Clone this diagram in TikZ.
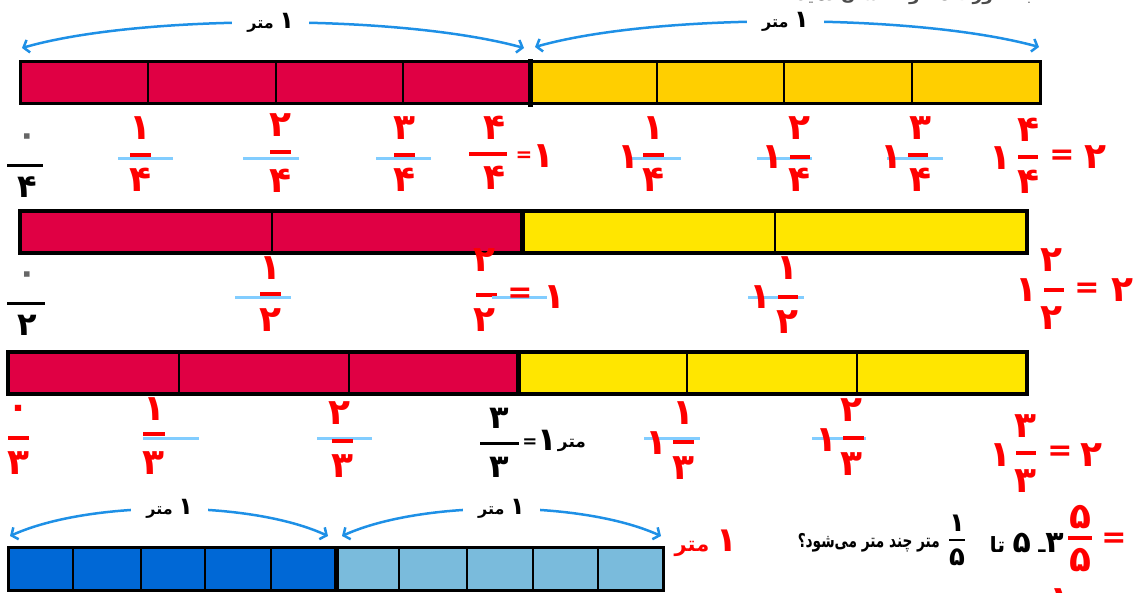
\documentclass[tikz,border=0pt]{standalone}
\usepackage{fontspec}
\usetikzlibrary{arrows.meta}
\newfontfamily\fa[Script=Arabic]{DejaVu Sans}
\TeXXeTstate=1
\newcommand\RL[1]{\beginR #1\endR}
\newcommand\bigd[2]{{\fontsize{#1}{#1}\selectfont #2}}
\definecolor{crim}{RGB}{224,0,68}
\definecolor{gold}{RGB}{255,207,0}
\definecolor{yel}{RGB}{255,230,0}
\definecolor{dblue}{RGB}{0,104,214}
\definecolor{lblue}{RGB}{122,187,220}
\definecolor{arrblue}{RGB}{30,144,230}
\definecolor{skyl}{RGB}{130,205,255}
\tikzset{
  rd/.style={font=\fa\bfseries\fontsize{36}{36}\selectfont, text=red, inner sep=0pt},
  rdeq/.style={font=\fa\bfseries\fontsize{30}{30}\selectfont, text=red, inner sep=0pt},
  rdeqs/.style={font=\fa\bfseries\fontsize{20}{20}\selectfont, text=red, inner sep=0pt},
  bk/.style={font=\fa\bfseries\fontsize{32}{32}\selectfont, text=black, inner sep=0pt},
  fbar/.style={draw=red, line width=3.5pt},
  kbar/.style={draw=black, line width=3.5pt},
  sbl/.style={draw=skyl, line width=3pt},
  arc/.style={draw=arrblue, line width=2.5pt, {Straight Barb[length=5pt,width=13pt]}-{Straight Barb[length=5pt,width=13pt]}},
  lab/.style={fill=white, font=\fa\bfseries\fontsize{16}{16}\selectfont, inner xsep=15pt, inner ysep=2pt},
  edge/.style={line width=3pt, draw=black},
  div/.style={line width=2.5pt, draw=black},
  mid/.style={line width=5pt, draw=black},
}
\begin{document}
\begin{tikzpicture}[x=1pt,y=-1pt]
\useasboundingbox (0,0) rectangle (1133,592);
% cut-off heading
\node[font=\fa\bfseries\fontsize{17}{17}\selectfont, text=black!70, inner sep=0pt] (head) at (915,-4) {\RL{به صورت مخلوط نشان دهید}};

% ---------- bar 1 ----------
\fill[crim] (20,61) rectangle (530,103);
\fill[gold] (530,61) rectangle (1040,103);
\foreach \x in {148,276,403,657,784,912} \draw[div] (\x,61) -- (\x,103);
\draw[edge] (20,61) rectangle (1040,103);
\draw[mid] (530,59) -- (530,107);
\coordinate (a1s) at (22,48); \coordinate (a1e) at (524,48);
\coordinate (a2s) at (535,47); \coordinate (a2e) at (1039,47);
\draw[arc] (a1s) .. controls (140,14) and (400,14) .. (a1e) node[lab, pos=0.5] (l1) {\RL{\bigd{24}{۱} متر}};
\draw[arc] (a2s) .. controls (655,13) and (915,13) .. (a2e) node[lab, pos=0.5] (l2) {\RL{\bigd{24}{۱} متر}};

% row 1 labels
\draw[kbar, line width=3pt] (7,165) -- (43,165);
\node[bk, text=black!60] (r1z) at (27,140) {۰};
\node[bk] (r1zd) at (27,187) {۴};
\draw[sbl] (118,158) -- (173,158); \draw[fbar] (130,155) -- (151,155);
\node[rd] (f1n) at (140,128) {۱}; \node[rd] (f1d) at (140,180) {۴};
\draw[sbl] (243,158) -- (299,158); \draw[fbar] (270,152) -- (291,152);
\node[rd] (f2n) at (280,125) {۲}; \node[rd] (f2d) at (280,181) {۴};
\draw[sbl] (376,158) -- (431,158); \draw[fbar] (394,155) -- (415,155);
\node[rd] (f3n) at (404,128) {۳}; \node[rd] (f3d) at (404,180) {۴};
\draw[fbar] (469,154) -- (507,154);
\node[rd] (f4n) at (494,128) {۴}; \node[rd] (f4d) at (494,178) {۴};
\node[rdeqs] (f4e) at (524,157) {=}; \node[rd] (f4w) at (543,156) {۱};

\draw[sbl] (629,158) -- (681,158); \draw[fbar] (643,155) -- (664,155);
\node[rd] (g1w) at (628,157) {۱}; \node[rd] (g1n) at (653,128) {۱}; \node[rd] (g1d) at (653,180) {۴};
\draw[sbl] (757,158) -- (812,158); \draw[fbar] (790,157) -- (810,157);
\node[rd] (g2w) at (772,157) {۱}; \node[rd] (g2n) at (799,128) {۲}; \node[rd] (g2d) at (799,180) {۴};
\draw[sbl] (887,158) -- (943,158); \draw[fbar] (908,155) -- (928,155);
\node[rd] (g3w) at (891,157) {۱}; \node[rd] (g3n) at (920,128) {۳}; \node[rd] (g3d) at (920,180) {۴};
\draw[fbar] (1018,157) -- (1038,157);
\node[rd] (g4w) at (1000,158) {۱}; \node[rd] (g4n) at (1028,130) {۴}; \node[rd] (g4d) at (1028,182) {۴};
\node[rdeq] (g4e) at (1062,157) {=}; \node[rd] (g4r) at (1095,157) {۲};

% ---------- bar 2 ----------
\fill[crim] (20,211) rectangle (522,253);
\fill[yel] (522,211) rectangle (1027,253);
\foreach \x in {272,775} \draw[div] (\x,211) -- (\x,253);
\draw[edge, line width=3.5pt] (20,211) rectangle (1027,253);
\draw[mid] (522,211) -- (522,253);

% row 2 labels
\draw[kbar, line width=3pt] (7,303) -- (45,303);
\node[bk, text=black!60] (r2z) at (27,278) {۰};
\node[bk] (r2zd) at (27,325) {۲};
\draw[sbl] (235,297) -- (291,297); \draw[fbar] (260,294) -- (281,294);
\node[rd] (h1n) at (270,268) {۱}; \node[rd] (h1d) at (270,320) {۲};
\draw[fbar] (476,295) -- (497,295); \draw[sbl] (492,297) -- (547,297);
\node[rdeq] (h2e) at (520,295) {=}; \node[rd] (h2w) at (554,297) {۱};
\node[rd] (h2n) at (484,260) {۲}; \node[rd] (h2d) at (484,320) {۲};
\draw[sbl] (748,297) -- (804,297); \draw[fbar] (778,297) -- (798,297);
\node[rd] (h3w) at (760,297) {۱}; \node[rd] (h3n) at (787,268) {۱}; \node[rd] (h3d) at (787,322) {۲};
\draw[fbar] (1044,290) -- (1064,290);
\node[rd] (h4w) at (1026,290) {۱}; \node[rd] (h4n) at (1051,260) {۲}; \node[rd] (h4d) at (1051,318) {۲};
\node[rdeq] (h4e) at (1087,290) {=}; \node[rd] (h4r) at (1122,290) {۲};

% ---------- bar 3 ----------
\fill[crim] (8,352) rectangle (518,394);
\fill[yel] (518,352) rectangle (1027,394);
\foreach \x in {179,349,687,857} \draw[div] (\x,352) -- (\x,394);
\draw[edge, line width=3.5pt] (8,352) rectangle (1027,394);
\draw[mid] (518,352) -- (518,394);

% row 3 labels
\draw[fbar] (8,438) -- (29,438);
\node[rd] (r3z) at (18,412) {٠}; \node[rd] (r3zd) at (18,463) {۳};
\draw[sbl] (143,438) -- (199,438); \draw[fbar] (143,434) -- (165,434);
\node[rd] (i1n) at (154,409) {۱}; \node[rd] (i1d) at (153,463) {۳};
\draw[sbl] (317,438) -- (372,438); \draw[fbar] (332,441) -- (353,441);
\node[rd] (i2n) at (339,413) {۲}; \node[rd] (i2d) at (342,466) {۳};
\draw[kbar, line width=3pt] (480,443) -- (519,443);
\node[bk] (i3n) at (499,418) {۳}; \node[bk] (i3d) at (499,467) {۳};
\node[bk, font=\fa\bfseries\fontsize{18}{18}\selectfont] (i3e) at (530,443) {=};
\node[bk] (i3w) at (547,440) {۱};
\node[bk, font=\fa\bfseries\fontsize{17}{17}\selectfont] (i3m) at (572,445) {\RL{متر}};
\draw[sbl] (644,438) -- (700,438); \draw[fbar] (673,442) -- (694,442);
\node[rd] (j1w) at (656,443) {۱}; \node[rd] (j1n) at (683,413) {۱}; \node[rd] (j1d) at (683,468) {۳};
\draw[sbl] (812,438) -- (866,438); \draw[fbar] (843,438) -- (864,438);
\node[rd] (j2w) at (826,440) {۱}; \node[rd] (j2n) at (851,410) {۲}; \node[rd] (j2d) at (851,464) {۳};
\draw[fbar] (1016,453) -- (1036,453);
\node[rd] (j3w) at (1000,455) {۱}; \node[rd] (j3n) at (1025,426) {۳}; \node[rd] (j3d) at (1025,481) {۳};
\node[rdeq] (j3e) at (1060,453) {=}; \node[rd] (j3r) at (1091,455) {۲};

% ---------- bar 4 ----------
\fill[dblue] (8,547) rectangle (336,590);
\fill[lblue] (336,547) rectangle (663,590);
\foreach \x in {73,141,205,271,399,467,533,598} \draw[div] (\x,547) -- (\x,590);
\draw[edge] (8,547) rectangle (663,590);
\draw[mid] (336,547) -- (336,592);
\coordinate (b1s) at (10,536); \coordinate (b1e) at (328,536);
\coordinate (b2s) at (342,536); \coordinate (b2e) at (661,536);
\draw[arc] (b1s) .. controls (90,500) and (250,500) .. (b1e) node[lab, pos=0.5] (l3) {\RL{\bigd{24}{۱} متر}};
\draw[arc] (b2s) .. controls (422,500) and (581,500) .. (b2e) node[lab, pos=0.5] (l4) {\RL{\bigd{24}{۱} متر}};

% question line
\node[rd, font=\fa\bfseries\fontsize{21}{21}\selectfont] (q1) at (706,543) {\RL{\bigd{34}{۱} متر}};
\node[bk, font=\fa\bfseries\fontsize{19}{19}\selectfont, anchor=east] (q2) at (940,543) {\scalebox{0.72}[1]{\RL{متر چند متر می‌شود؟}}};
\draw[kbar, line width=1.2pt] (949,540) -- (965,540);
\node[bk, font=\fa\bfseries\fontsize{26}{26}\selectfont] (q3n) at (957,523) {۱};
\node[bk, font=\fa\bfseries\fontsize{26}{26}\selectfont] (q3d) at (957,557) {۵};
\node[bk, font=\fa\bfseries\fontsize{21}{21}\selectfont, anchor=east] (q4) at (1064,543) {\RL{\bigd{30}{۳}ـ \bigd{30}{۵} تا}};
\draw[fbar] (1068,538) -- (1092,538);
\node[rd] (k1n) at (1080,517) {۵}; \node[rd] (k1d) at (1080,560) {۵};
\node[rdeq] (k1e) at (1114,540) {=};
\node[rd] (k2) at (1060,600) {۱};
\end{tikzpicture}
\end{document}
